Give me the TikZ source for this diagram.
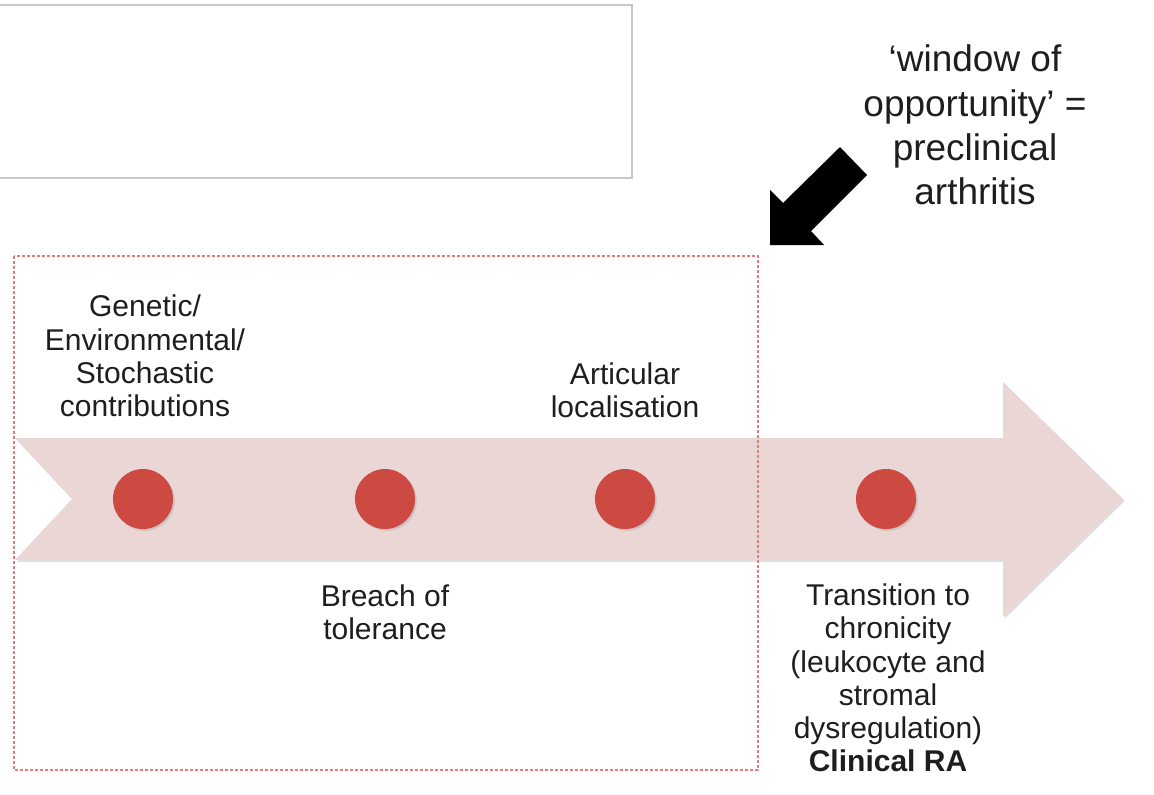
\documentclass[tikz,border=0pt]{standalone}
\usepackage{fontspec}
\setmainfont{Liberation Sans}
\usetikzlibrary{shadows}
\definecolor{bandpink}{HTML}{EBD6D6}
\definecolor{dotred}{HTML}{CD4A43}
\definecolor{framered}{HTML}{E47A7A}
\definecolor{boxgray}{HTML}{C8C8C8}
\definecolor{ink}{HTML}{1E1E1E}
\begin{document}
\begin{tikzpicture}[x=0.5pt,y=-0.5pt,
  softshadow/.style={drop shadow={opacity=0.25, shadow xshift=0.9pt, shadow yshift=-0.9pt}},
  stage/.style={circle, fill=dotred, minimum size=30pt, inner sep=0pt, softshadow},
  label/.style={align=center, text=ink, font=\fontsize{15}{16.6}\selectfont, inner sep=0pt},
  callout/.style={align=center, text=ink, font=\fontsize{18.5}{22.2}\selectfont, inner sep=0pt}]
\useasboundingbox (0,0) rectangle (1154,794);

% empty panel at the top
\draw[boxgray, line width=0.6pt] (-10,5) -- (632,5) -- (632,178) -- (-10,178);

% timeline band with notched tail and arrow head
\fill[bandpink, softshadow] (15,438) -- (1003,438) -- (1003,382) -- (1123,499)
  -- (1003,617) -- (1003,560) -- (15,560) -- (72,499) -- cycle;

% preclinical frame
\draw[framered, line width=0.8pt, dash pattern=on 1.5pt off 1pt]
  (14,256) rectangle (758,770);

% pointer arrow
\fill[black] (770,245) -- (770,190) -- (783,203) -- (840,147) -- (867,175)
  -- (811,231) -- (824,245) -- cycle;

% stages
\node[stage] (s1) at (143,499) {};
\node[stage] (s2) at (385,499) {};
\node[stage] (s3) at (625,499) {};
\node[stage] (s4) at (886,499) {};

% labels
\node[label] (l1) at (145,356) {Genetic/\\Environmental/\\Stochastic\\contributions};
\node[label] (l3) at (625,390) {Articular\\localisation};
\node[label] (l2) at (385,612) {Breach of\\tolerance};
\node[label] (l4) at (888,678) {Transition to\\chronicity\\(leukocyte and\\stromal\\dysregulation)\\\textbf{Clinical RA}};
\node[callout] (w) at (975,125) {‘window of\\opportunity’ =\\preclinical\\arthritis};
\end{tikzpicture}
\end{document}
